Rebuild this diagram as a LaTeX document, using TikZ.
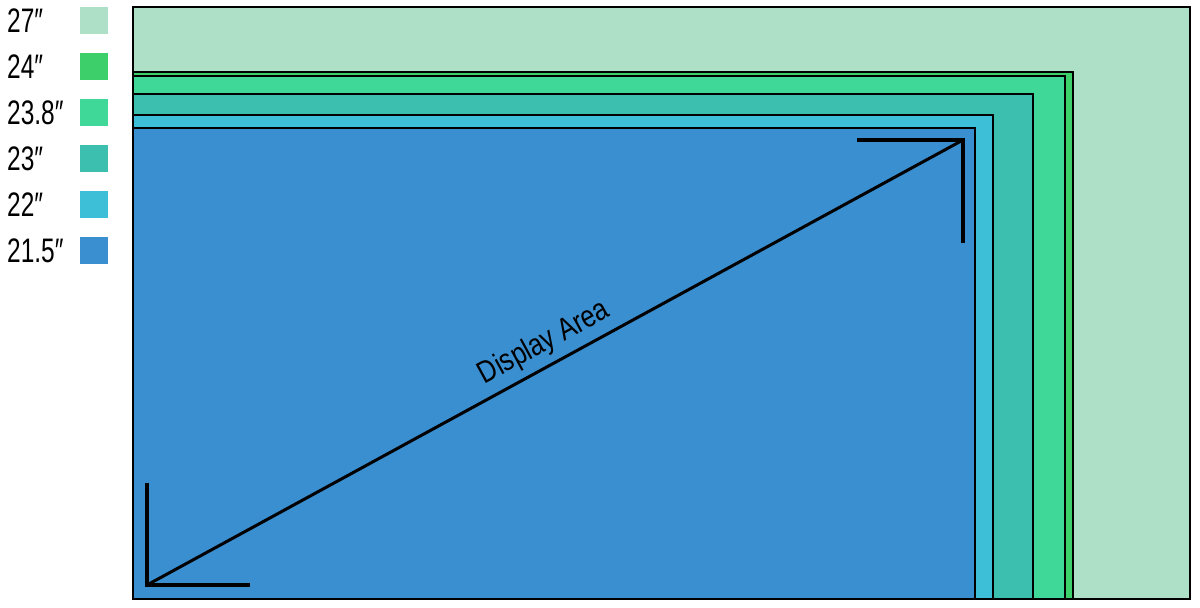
\documentclass[tikz,border=0pt]{standalone}
\usepackage{fontspec}
\setmainfont{Liberation Sans}
\definecolor{cA}{HTML}{AEE0C8}
\definecolor{cB}{HTML}{3DCF6A}
\definecolor{cC}{HTML}{40D898}
\definecolor{cD}{HTML}{3DBFB0}
\definecolor{cE}{HTML}{3DBFD8}
\definecolor{cF}{HTML}{3A8FD0}
\begin{document}
\begin{tikzpicture}[x=1pt,y=-1pt,
  scr/.style={draw=black,line width=1.5pt},
  sw/.style={minimum width=28pt,minimum height=27pt,inner sep=0pt},
  lab/.style={anchor=west,font=\fontsize{34}{34}\selectfont,xscale=0.72,inner sep=0pt},
  cornermk/.style={line width=4pt}]
\useasboundingbox (0,0) rectangle (1200,608);
\fill[white] (0,0) rectangle (1200,608);
\draw[scr,fill=cA] (133,7) rectangle (1190,599);
\draw[scr,fill=cB] (133,72) rectangle (1073,599);
\draw[scr,fill=cC] (133,76) rectangle (1065,599);
\draw[scr,fill=cD] (133,94) rectangle (1033,599);
\draw[scr,fill=cE] (133,115) rectangle (993,599);
\draw[scr,fill=cF] (133,128) rectangle (975,599);
\foreach \c/\t [count=\i from 0] in {cA/27,cB/24,cC/23.8,cD/23,cE/22,cF/21.5}{
  \node[sw,fill=\c] (s\i) at (94,{20.5+46*\i}) {};
  \node[lab] (l\i) at (7,{21+46*\i}) {\t″};
}
\coordinate (bl) at (147,585);
\coordinate (tr) at (963,140);
\draw[cornermk] (147,483) -- (bl) -- (250,585);
\draw[cornermk] (857,140) -- (tr) -- (963,243);
\draw[line width=3pt] (bl) -- node[above=3pt,sloped,font=\fontsize{31}{31}\selectfont] (da) {\scalebox{0.82}[1]{Display Area}} (tr);
\end{tikzpicture}
\end{document}
